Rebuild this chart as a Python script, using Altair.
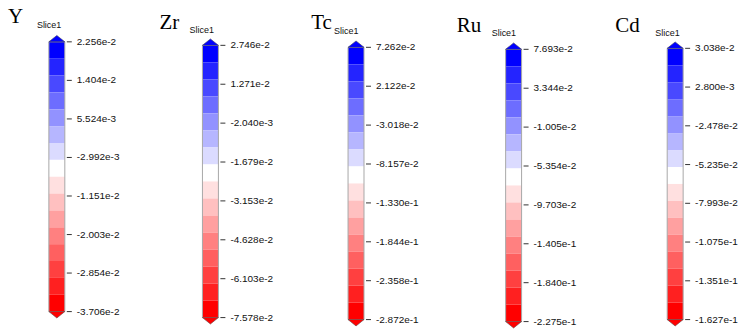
import altair as alt
import numpy as np
import pandas as pd

# Element names shown above each colour bar
ELEMENTS = ["Y", "Zr", "Tc", "Ru", "Cd"]

# Tick labels of each colour bar, top to bottom
Y_TICKS = ["2.256e-2", "1.404e-2", "5.524e-3", "-2.992e-3",
           "-1.151e-2", "-2.003e-2", "-2.854e-2", "-3.706e-2"]
ZR_TICKS = ["2.746e-2", "1.271e-2", "-2.040e-3", "-1.679e-2",
            "-3.153e-2", "-4.628e-2", "-6.103e-2", "-7.578e-2"]
TC_TICKS = ["7.262e-2", "2.122e-2", "-3.018e-2", "-8.157e-2",
            "-1.330e-1", "-1.844e-1", "-2.358e-1", "-2.872e-1"]
RU_TICKS = ["7.693e-2", "3.344e-2", "-1.005e-2", "-5.354e-2",
            "-9.703e-2", "-1.405e-1", "-1.840e-1", "-2.275e-1"]
CD_TICKS = ["3.038e-2", "2.800e-3", "-2.478e-2", "-5.235e-2",
            "-7.993e-2", "-1.075e-1", "-1.351e-1", "-1.627e-1"]

# 16-step blue-white-red palette, top band first
BAND_COLORS = ["#0000ff", "#2424ff", "#4949ff", "#6d6dff", "#9292ff",
               "#b6b6ff", "#dbdbff", "#ffffff", "#ffe0e0", "#ffc0c0",
               "#ffa0a0", "#ff8080", "#ff6060", "#ff4040", "#ff2020",
               "#ff0000"]

# Panel geometry: width, title x, title baseline, slice-label x/y,
# bar left, pixel row of top tick, pixel row of bottom tick
LAYOUT = [
    dict(w=150, tx=8, ty=23, sx=37, sy=25, bar=49, top=41.5, bottom=312),
    dict(w=150, tx=10, ty=29, sx=40, sy=30, bar=53, top=45, bottom=318),
    dict(w=150, tx=12, ty=29, sx=35, sy=31, bar=49, top=47, bottom=320),
    dict(w=150, tx=8, ty=32, sx=43, sy=33, bar=57, top=49, bottom=322),
    dict(w=138, tx=17, ty=32, sx=57, sy=33, bar=69, top=48, bottom=320),
]

BAR_W = 16
LABEL_FONT = "Liberation Sans"
TITLE_FONT = "Liberation Serif"


def colorbar(name, ticks, lay):
    vals = [float(t) for t in ticks]
    vmax, vmin = vals[0], vals[-1]
    yscale = alt.Scale(domain=[vmin, vmax], range=[lay["bottom"], lay["top"]],
                       nice=False, zero=False)
    x0 = lay["bar"]
    x1 = x0 + BAR_W
    xc = (x0 + x1) / 2

    edges = np.linspace(vmax, vmin, len(BAND_COLORS) + 1)
    bands = pd.DataFrame({"hi": edges[:-1], "lo": edges[1:], "color": BAND_COLORS})
    tick_df = pd.DataFrame({"v": vals, "label": ticks})
    ends = pd.DataFrame({"v": [vmax, vmin], "color": [BAND_COLORS[0], BAND_COLORS[-1]],
                         "end": ["top", "bottom"]})

    band_layer = alt.Chart(bands).mark_rect().encode(
        x=alt.value(x0), x2=alt.value(x1),
        y=alt.Y("hi:Q", scale=yscale, axis=None), y2="lo:Q",
        fill=alt.Color("color:N", scale=None),
    )
    frame = alt.Chart(pd.DataFrame({"hi": [vmax], "lo": [vmin]})).mark_rect(
        fillOpacity=0, stroke="#a8a8a8", strokeWidth=1
    ).encode(
        x=alt.value(x0), x2=alt.value(x1),
        y=alt.Y("hi:Q", scale=yscale, axis=None), y2="lo:Q",
    )
    top_cap = alt.Chart(ends[ends.end == "top"]).mark_point(
        shape="M-1,0L0,-0.8L1,0Z", size=BAR_W ** 2, filled=True, opacity=1,
        stroke="#404060", strokeWidth=0.6,
    ).encode(
        x=alt.value(xc), y=alt.Y("v:Q", scale=yscale, axis=None),
        fill=alt.Color("color:N", scale=None),
    )
    bottom_cap = alt.Chart(ends[ends.end == "bottom"]).mark_point(
        shape="M-1,0L0,0.8L1,0Z", size=BAR_W ** 2, filled=True, opacity=1,
        stroke="#604040", strokeWidth=0.6,
    ).encode(
        x=alt.value(xc), y=alt.Y("v:Q", scale=yscale, axis=None),
        fill=alt.Color("color:N", scale=None),
    )
    tick_marks = alt.Chart(tick_df).mark_rule(color="#333333", strokeWidth=1).encode(
        x=alt.value(x0 + 18), x2=alt.value(x0 + 23),
        y=alt.Y("v:Q", scale=yscale, axis=None),
    )
    tick_text = alt.Chart(tick_df).mark_text(
        align="left", baseline="middle", font=LABEL_FONT, fontSize=10, color="#111111"
    ).encode(
        x=alt.value(x0 + 28), y=alt.Y("v:Q", scale=yscale, axis=None), text="label:N",
    )
    title = alt.Chart(pd.DataFrame({"name": [name]})).mark_text(
        align="left", baseline="alphabetic", font=TITLE_FONT, fontSize=21, color="#000000"
    ).encode(x=alt.value(lay["tx"]), y=alt.value(lay["ty"]), text="name:N")
    slice_lbl = alt.Chart(pd.DataFrame({"s": ["Slice1"]})).mark_text(
        align="left", baseline="middle", font=LABEL_FONT, fontSize=9, color="#111111"
    ).encode(x=alt.value(lay["sx"]), y=alt.value(lay["sy"]), text="s:N")

    return alt.layer(
        band_layer, frame, top_cap, bottom_cap, tick_marks, tick_text, title, slice_lbl
    ).properties(width=lay["w"], height=333)


panels = [
    colorbar(n, t, l)
    for n, t, l in zip(ELEMENTS, [Y_TICKS, ZR_TICKS, TC_TICKS, RU_TICKS, CD_TICKS], LAYOUT)
]

chart = alt.hconcat(*panels, spacing=0).properties(
    padding=0, background="#ffffff"
).configure_view(stroke=None)

chart.save("out.html", embed_options={"renderer": "svg", "actions": False})
